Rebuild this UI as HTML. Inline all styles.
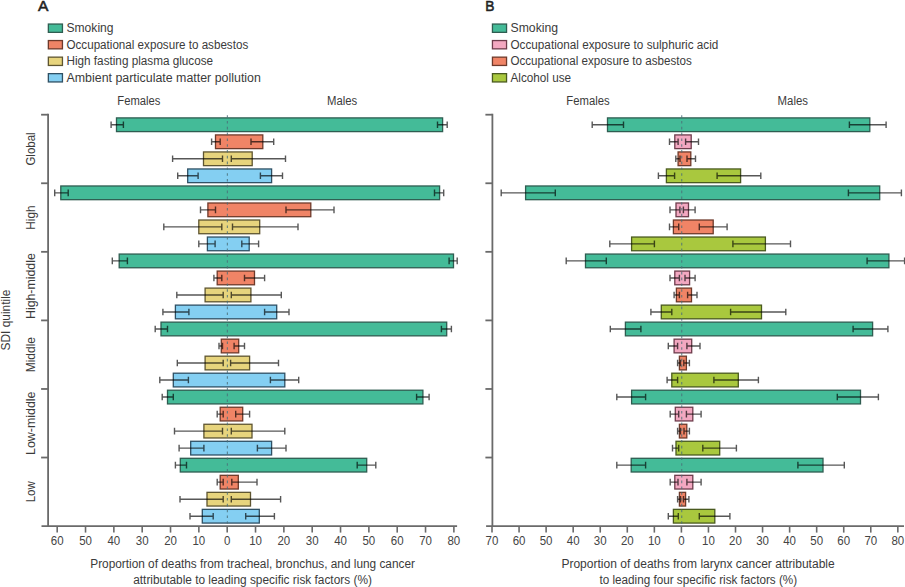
<!DOCTYPE html>
<html><head><meta charset="utf-8"><title>Figure</title>
<style>html,body{margin:0;padding:0;background:#fff;}svg{display:block;}</style>
</head><body>
<svg width="905" height="587" viewBox="0 0 905 587" font-family='"Liberation Sans", sans-serif'>
<rect width="905" height="587" fill="#fff"/>
<rect x="116.5" y="117.9" width="326.1" height="13.7" fill="#44bb98" stroke="#2f5d51" stroke-width="1.3"/>
<path d="M111.1 124.75H123.4M111.1 121.45V128.05M123.4 121.45V128.05" stroke="#000" stroke-opacity="0.66" stroke-width="1.4" fill="none"/>
<path d="M437.5 124.75H447.2M437.5 121.45V128.05M447.2 121.45V128.05" stroke="#000" stroke-opacity="0.66" stroke-width="1.4" fill="none"/>
<rect x="215.5" y="134.92" width="47.3" height="13.7" fill="#f08466" stroke="#6e3a2b" stroke-width="1.3"/>
<path d="M211.6 141.77H220.2M211.6 138.47V145.07M220.2 138.47V145.07" stroke="#000" stroke-opacity="0.66" stroke-width="1.4" fill="none"/>
<path d="M251 141.77H273.7M251 138.47V145.07M273.7 138.47V145.07" stroke="#000" stroke-opacity="0.66" stroke-width="1.4" fill="none"/>
<rect x="203.5" y="151.94" width="48.7" height="13.7" fill="#e7d47d" stroke="#5e5531" stroke-width="1.3"/>
<path d="M172.6 158.79H222.5M172.6 155.49V162.09M222.5 155.49V162.09" stroke="#000" stroke-opacity="0.66" stroke-width="1.4" fill="none"/>
<path d="M231.3 158.79H285.5M231.3 155.49V162.09M285.5 155.49V162.09" stroke="#000" stroke-opacity="0.66" stroke-width="1.4" fill="none"/>
<rect x="187.7" y="168.96" width="83.9" height="13.7" fill="#84cff2" stroke="#2f5064" stroke-width="1.3"/>
<path d="M177.7 175.81H198.1M177.7 172.51V179.11M198.1 172.51V179.11" stroke="#000" stroke-opacity="0.66" stroke-width="1.4" fill="none"/>
<path d="M260.4 175.81H282.5M260.4 172.51V179.11M282.5 172.51V179.11" stroke="#000" stroke-opacity="0.66" stroke-width="1.4" fill="none"/>
<rect x="60.8" y="185.98" width="378.8" height="13.7" fill="#44bb98" stroke="#2f5d51" stroke-width="1.3"/>
<path d="M54.7 192.83H68.2M54.7 189.53V196.13M68.2 189.53V196.13" stroke="#000" stroke-opacity="0.66" stroke-width="1.4" fill="none"/>
<path d="M434.5 192.83H443.7M434.5 189.53V196.13M443.7 189.53V196.13" stroke="#000" stroke-opacity="0.66" stroke-width="1.4" fill="none"/>
<rect x="207.9" y="203" width="102.9" height="13.7" fill="#f08466" stroke="#6e3a2b" stroke-width="1.3"/>
<path d="M200.5 209.85H215.5M200.5 206.55V213.15M215.5 206.55V213.15" stroke="#000" stroke-opacity="0.66" stroke-width="1.4" fill="none"/>
<path d="M286 209.85H334M286 206.55V213.15M334 206.55V213.15" stroke="#000" stroke-opacity="0.66" stroke-width="1.4" fill="none"/>
<rect x="198.8" y="220.02" width="60.9" height="13.7" fill="#e7d47d" stroke="#5e5531" stroke-width="1.3"/>
<path d="M163.8 226.87H221.8M163.8 223.57V230.17M221.8 223.57V230.17" stroke="#000" stroke-opacity="0.66" stroke-width="1.4" fill="none"/>
<path d="M232.5 226.87H298M232.5 223.57V230.17M298 223.57V230.17" stroke="#000" stroke-opacity="0.66" stroke-width="1.4" fill="none"/>
<rect x="207.4" y="237.04" width="41.8" height="13.7" fill="#84cff2" stroke="#2f5064" stroke-width="1.3"/>
<path d="M198.8 243.89H215.1M198.8 240.59V247.19M215.1 240.59V247.19" stroke="#000" stroke-opacity="0.66" stroke-width="1.4" fill="none"/>
<path d="M241.8 243.89H258.6M241.8 240.59V247.19M258.6 240.59V247.19" stroke="#000" stroke-opacity="0.66" stroke-width="1.4" fill="none"/>
<rect x="119.2" y="254.06" width="334.3" height="13.7" fill="#44bb98" stroke="#2f5d51" stroke-width="1.3"/>
<path d="M112.3 260.91H127.4M112.3 257.61V264.21M127.4 257.61V264.21" stroke="#000" stroke-opacity="0.66" stroke-width="1.4" fill="none"/>
<path d="M449.1 260.91H457.2M449.1 257.61V264.21M457.2 257.61V264.21" stroke="#000" stroke-opacity="0.66" stroke-width="1.4" fill="none"/>
<rect x="217.2" y="271.08" width="37.3" height="13.7" fill="#f08466" stroke="#6e3a2b" stroke-width="1.3"/>
<path d="M213.9 277.93H221.8M213.9 274.63V281.23M221.8 274.63V281.23" stroke="#000" stroke-opacity="0.66" stroke-width="1.4" fill="none"/>
<path d="M244.5 277.93H264.6M244.5 274.63V281.23M264.6 274.63V281.23" stroke="#000" stroke-opacity="0.66" stroke-width="1.4" fill="none"/>
<rect x="205.1" y="288.1" width="45.8" height="13.7" fill="#e7d47d" stroke="#5e5531" stroke-width="1.3"/>
<path d="M176.8 294.95H223.2M176.8 291.65V298.25M223.2 291.65V298.25" stroke="#000" stroke-opacity="0.66" stroke-width="1.4" fill="none"/>
<path d="M231.3 294.95H281.3M231.3 291.65V298.25M281.3 291.65V298.25" stroke="#000" stroke-opacity="0.66" stroke-width="1.4" fill="none"/>
<rect x="175.4" y="305.12" width="101.3" height="13.7" fill="#84cff2" stroke="#2f5064" stroke-width="1.3"/>
<path d="M162.9 311.97H188.9M162.9 308.67V315.27M188.9 308.67V315.27" stroke="#000" stroke-opacity="0.66" stroke-width="1.4" fill="none"/>
<path d="M264.6 311.97H289M264.6 308.67V315.27M289 308.67V315.27" stroke="#000" stroke-opacity="0.66" stroke-width="1.4" fill="none"/>
<rect x="161" y="322.14" width="285.7" height="13.7" fill="#44bb98" stroke="#2f5d51" stroke-width="1.3"/>
<path d="M155.2 328.99H167.5M155.2 325.69V332.29M167.5 325.69V332.29" stroke="#000" stroke-opacity="0.66" stroke-width="1.4" fill="none"/>
<path d="M441.4 328.99H451.4M441.4 325.69V332.29M451.4 325.69V332.29" stroke="#000" stroke-opacity="0.66" stroke-width="1.4" fill="none"/>
<rect x="221.3" y="339.16" width="17.4" height="13.7" fill="#f08466" stroke="#6e3a2b" stroke-width="1.3"/>
<path d="M219 346.01H222.5M219 342.71V349.31M222.5 342.71V349.31" stroke="#000" stroke-opacity="0.66" stroke-width="1.4" fill="none"/>
<path d="M234.1 346.01H244.5M234.1 342.71V349.31M244.5 342.71V349.31" stroke="#000" stroke-opacity="0.66" stroke-width="1.4" fill="none"/>
<rect x="205.1" y="356.18" width="44.5" height="13.7" fill="#e7d47d" stroke="#5e5531" stroke-width="1.3"/>
<path d="M177.3 363.03H223.2M177.3 359.73V366.33M223.2 359.73V366.33" stroke="#000" stroke-opacity="0.66" stroke-width="1.4" fill="none"/>
<path d="M230.6 363.03H278.5M230.6 359.73V366.33M278.5 359.73V366.33" stroke="#000" stroke-opacity="0.66" stroke-width="1.4" fill="none"/>
<rect x="173.3" y="373.2" width="111.5" height="13.7" fill="#84cff2" stroke="#2f5064" stroke-width="1.3"/>
<path d="M159.8 380.05H188.4M159.8 376.75V383.35M188.4 376.75V383.35" stroke="#000" stroke-opacity="0.66" stroke-width="1.4" fill="none"/>
<path d="M270.4 380.05H298.7M270.4 376.75V383.35M298.7 376.75V383.35" stroke="#000" stroke-opacity="0.66" stroke-width="1.4" fill="none"/>
<rect x="167.5" y="390.22" width="255.4" height="13.7" fill="#44bb98" stroke="#2f5d51" stroke-width="1.3"/>
<path d="M162.2 397.07H173.3M162.2 393.77V400.37M173.3 393.77V400.37" stroke="#000" stroke-opacity="0.66" stroke-width="1.4" fill="none"/>
<path d="M416.6 397.07H429.1M416.6 393.77V400.37M429.1 393.77V400.37" stroke="#000" stroke-opacity="0.66" stroke-width="1.4" fill="none"/>
<rect x="220.2" y="407.24" width="22.5" height="13.7" fill="#f08466" stroke="#6e3a2b" stroke-width="1.3"/>
<path d="M217.2 414.09H223.2M217.2 410.79V417.39M223.2 410.79V417.39" stroke="#000" stroke-opacity="0.66" stroke-width="1.4" fill="none"/>
<path d="M235.7 414.09H249.6M235.7 410.79V417.39M249.6 410.79V417.39" stroke="#000" stroke-opacity="0.66" stroke-width="1.4" fill="none"/>
<rect x="203.9" y="424.26" width="48.1" height="13.7" fill="#e7d47d" stroke="#5e5531" stroke-width="1.3"/>
<path d="M174.5 431.11H222.5M174.5 427.81V434.41M222.5 427.81V434.41" stroke="#000" stroke-opacity="0.66" stroke-width="1.4" fill="none"/>
<path d="M231.3 431.11H284.8M231.3 427.81V434.41M284.8 427.81V434.41" stroke="#000" stroke-opacity="0.66" stroke-width="1.4" fill="none"/>
<rect x="190.7" y="441.28" width="80.9" height="13.7" fill="#84cff2" stroke="#2f5064" stroke-width="1.3"/>
<path d="M179.1 448.13H203.9M179.1 444.83V451.43M203.9 444.83V451.43" stroke="#000" stroke-opacity="0.66" stroke-width="1.4" fill="none"/>
<path d="M257.4 448.13H286M257.4 444.83V451.43M286 444.83V451.43" stroke="#000" stroke-opacity="0.66" stroke-width="1.4" fill="none"/>
<rect x="180.3" y="458.3" width="186.4" height="13.7" fill="#44bb98" stroke="#2f5d51" stroke-width="1.3"/>
<path d="M175.4 465.15H186.5M175.4 461.85V468.45M186.5 461.85V468.45" stroke="#000" stroke-opacity="0.66" stroke-width="1.4" fill="none"/>
<path d="M357.2 465.15H375.8M357.2 461.85V468.45M375.8 461.85V468.45" stroke="#000" stroke-opacity="0.66" stroke-width="1.4" fill="none"/>
<rect x="220.2" y="475.32" width="18.1" height="13.7" fill="#f08466" stroke="#6e3a2b" stroke-width="1.3"/>
<path d="M217.2 482.17H223.2M217.2 478.87V485.47M223.2 478.87V485.47" stroke="#000" stroke-opacity="0.66" stroke-width="1.4" fill="none"/>
<path d="M231.8 482.17H257M231.8 478.87V485.47M257 478.87V485.47" stroke="#000" stroke-opacity="0.66" stroke-width="1.4" fill="none"/>
<rect x="207" y="492.34" width="43.5" height="13.7" fill="#e7d47d" stroke="#5e5531" stroke-width="1.3"/>
<path d="M180 499.19H223.2M180 495.89V502.49M223.2 495.89V502.49" stroke="#000" stroke-opacity="0.66" stroke-width="1.4" fill="none"/>
<path d="M231.3 499.19H280.6M231.3 495.89V502.49M280.6 495.89V502.49" stroke="#000" stroke-opacity="0.66" stroke-width="1.4" fill="none"/>
<rect x="202.3" y="509.36" width="57" height="13.7" fill="#84cff2" stroke="#2f5064" stroke-width="1.3"/>
<path d="M190 516.21H213.2M190 512.91V519.51M213.2 512.91V519.51" stroke="#000" stroke-opacity="0.66" stroke-width="1.4" fill="none"/>
<path d="M245.7 516.21H274.4M245.7 512.91V519.51M274.4 512.91V519.51" stroke="#000" stroke-opacity="0.66" stroke-width="1.4" fill="none"/>
<line x1="227.35" y1="115.2" x2="227.35" y2="525.1" stroke="#4a6f78" stroke-opacity="0.85" stroke-width="1.05" stroke-dasharray="2.6 3.2"/>
<path d="M48.1 113.8V526.1" stroke="#6a6a6a" stroke-width="1.8" fill="none"/>
<path d="M41.1 114.7H48.1" stroke="#6a6a6a" stroke-width="1.8" fill="none"/>
<path d="M41.1 183.27H48.1" stroke="#6a6a6a" stroke-width="1.8" fill="none"/>
<path d="M41.1 251.83H48.1" stroke="#6a6a6a" stroke-width="1.8" fill="none"/>
<path d="M41.1 320.4H48.1" stroke="#6a6a6a" stroke-width="1.8" fill="none"/>
<path d="M41.1 388.97H48.1" stroke="#6a6a6a" stroke-width="1.8" fill="none"/>
<path d="M41.1 457.53H48.1" stroke="#6a6a6a" stroke-width="1.8" fill="none"/>
<path d="M41.5 526.1H457.1" stroke="#6a6a6a" stroke-width="1.9" fill="none"/>
<path d="M57.19 526.1V532.6" stroke="#6a6a6a" stroke-width="1.6" fill="none"/>
<text x="57.19" y="545" font-size="13" text-anchor="middle" textLength="12.8" lengthAdjust="spacingAndGlyphs" fill="#444">60</text>
<path d="M85.53 526.1V532.6" stroke="#6a6a6a" stroke-width="1.6" fill="none"/>
<text x="85.53" y="545" font-size="13" text-anchor="middle" textLength="12.8" lengthAdjust="spacingAndGlyphs" fill="#444">50</text>
<path d="M113.86 526.1V532.6" stroke="#6a6a6a" stroke-width="1.6" fill="none"/>
<text x="113.86" y="545" font-size="13" text-anchor="middle" textLength="12.8" lengthAdjust="spacingAndGlyphs" fill="#444">40</text>
<path d="M142.19 526.1V532.6" stroke="#6a6a6a" stroke-width="1.6" fill="none"/>
<text x="142.19" y="545" font-size="13" text-anchor="middle" textLength="12.8" lengthAdjust="spacingAndGlyphs" fill="#444">30</text>
<path d="M170.53 526.1V532.6" stroke="#6a6a6a" stroke-width="1.6" fill="none"/>
<text x="170.53" y="545" font-size="13" text-anchor="middle" textLength="12.8" lengthAdjust="spacingAndGlyphs" fill="#444">20</text>
<path d="M198.86 526.1V532.6" stroke="#6a6a6a" stroke-width="1.6" fill="none"/>
<text x="198.86" y="545" font-size="13" text-anchor="middle" textLength="12.8" lengthAdjust="spacingAndGlyphs" fill="#444">10</text>
<path d="M227.2 526.1V532.6" stroke="#6a6a6a" stroke-width="1.6" fill="none"/>
<text x="227.2" y="545" font-size="13" text-anchor="middle" textLength="6.4" lengthAdjust="spacingAndGlyphs" fill="#444">0</text>
<path d="M255.53 526.1V532.6" stroke="#6a6a6a" stroke-width="1.6" fill="none"/>
<text x="255.53" y="545" font-size="13" text-anchor="middle" textLength="12.8" lengthAdjust="spacingAndGlyphs" fill="#444">10</text>
<path d="M283.87 526.1V532.6" stroke="#6a6a6a" stroke-width="1.6" fill="none"/>
<text x="283.87" y="545" font-size="13" text-anchor="middle" textLength="12.8" lengthAdjust="spacingAndGlyphs" fill="#444">20</text>
<path d="M312.2 526.1V532.6" stroke="#6a6a6a" stroke-width="1.6" fill="none"/>
<text x="312.2" y="545" font-size="13" text-anchor="middle" textLength="12.8" lengthAdjust="spacingAndGlyphs" fill="#444">30</text>
<path d="M340.54 526.1V532.6" stroke="#6a6a6a" stroke-width="1.6" fill="none"/>
<text x="340.54" y="545" font-size="13" text-anchor="middle" textLength="12.8" lengthAdjust="spacingAndGlyphs" fill="#444">40</text>
<path d="M368.88 526.1V532.6" stroke="#6a6a6a" stroke-width="1.6" fill="none"/>
<text x="368.88" y="545" font-size="13" text-anchor="middle" textLength="12.8" lengthAdjust="spacingAndGlyphs" fill="#444">50</text>
<path d="M397.21 526.1V532.6" stroke="#6a6a6a" stroke-width="1.6" fill="none"/>
<text x="397.21" y="545" font-size="13" text-anchor="middle" textLength="12.8" lengthAdjust="spacingAndGlyphs" fill="#444">60</text>
<path d="M425.54 526.1V532.6" stroke="#6a6a6a" stroke-width="1.6" fill="none"/>
<text x="425.54" y="545" font-size="13" text-anchor="middle" textLength="12.8" lengthAdjust="spacingAndGlyphs" fill="#444">70</text>
<path d="M453.88 526.1V532.6" stroke="#6a6a6a" stroke-width="1.6" fill="none"/>
<text x="453.88" y="545" font-size="13" text-anchor="middle" textLength="12.8" lengthAdjust="spacingAndGlyphs" fill="#444">80</text>
<rect x="607.5" y="117.9" width="262.3" height="13.7" fill="#44bb98" stroke="#2f5d51" stroke-width="1.3"/>
<path d="M592.2 124.75H623.5M592.2 121.45V128.05M623.5 121.45V128.05" stroke="#000" stroke-opacity="0.66" stroke-width="1.4" fill="none"/>
<path d="M849.4 124.75H886.1M849.4 121.45V128.05M886.1 121.45V128.05" stroke="#000" stroke-opacity="0.66" stroke-width="1.4" fill="none"/>
<rect x="674.8" y="134.92" width="16.4" height="13.7" fill="#f3a8c1" stroke="#6e3d4c" stroke-width="1.3"/>
<path d="M669.5 141.77H678.1M669.5 138.47V145.07M678.1 138.47V145.07" stroke="#000" stroke-opacity="0.66" stroke-width="1.4" fill="none"/>
<path d="M685.6 141.77H698.5M685.6 138.47V145.07M698.5 138.47V145.07" stroke="#000" stroke-opacity="0.66" stroke-width="1.4" fill="none"/>
<rect x="678.1" y="151.94" width="12.7" height="13.7" fill="#f08466" stroke="#6e3a2b" stroke-width="1.3"/>
<path d="M675.8 158.79H680M675.8 155.49V162.09M680 155.49V162.09" stroke="#000" stroke-opacity="0.66" stroke-width="1.4" fill="none"/>
<path d="M687 158.79H695.5M687 155.49V162.09M695.5 155.49V162.09" stroke="#000" stroke-opacity="0.66" stroke-width="1.4" fill="none"/>
<rect x="666.4" y="168.96" width="74.2" height="13.7" fill="#a9c83e" stroke="#4a5a1f" stroke-width="1.3"/>
<path d="M658.4 175.81H674.6M658.4 172.51V179.11M674.6 172.51V179.11" stroke="#000" stroke-opacity="0.66" stroke-width="1.4" fill="none"/>
<path d="M717.1 175.81H760.8M717.1 172.51V179.11M760.8 172.51V179.11" stroke="#000" stroke-opacity="0.66" stroke-width="1.4" fill="none"/>
<rect x="525.6" y="185.98" width="354.1" height="13.7" fill="#44bb98" stroke="#2f5d51" stroke-width="1.3"/>
<path d="M501.2 192.83H555.3M501.2 189.53V196.13M555.3 189.53V196.13" stroke="#000" stroke-opacity="0.66" stroke-width="1.4" fill="none"/>
<path d="M848.4 192.83H901.4M848.4 189.53V196.13M901.4 189.53V196.13" stroke="#000" stroke-opacity="0.66" stroke-width="1.4" fill="none"/>
<rect x="676" y="203" width="12.5" height="13.7" fill="#f3a8c1" stroke="#6e3d4c" stroke-width="1.3"/>
<path d="M670 209.85H679.9M670 206.55V213.15M679.9 206.55V213.15" stroke="#000" stroke-opacity="0.66" stroke-width="1.4" fill="none"/>
<path d="M683.4 209.85H695.1M683.4 206.55V213.15M695.1 206.55V213.15" stroke="#000" stroke-opacity="0.66" stroke-width="1.4" fill="none"/>
<rect x="673.4" y="220.02" width="39.8" height="13.7" fill="#f08466" stroke="#6e3a2b" stroke-width="1.3"/>
<path d="M669.5 226.87H678.7M669.5 223.57V230.17M678.7 223.57V230.17" stroke="#000" stroke-opacity="0.66" stroke-width="1.4" fill="none"/>
<path d="M699.3 226.87H727.1M699.3 223.57V230.17M727.1 223.57V230.17" stroke="#000" stroke-opacity="0.66" stroke-width="1.4" fill="none"/>
<rect x="631.6" y="237.04" width="133.8" height="13.7" fill="#a9c83e" stroke="#4a5a1f" stroke-width="1.3"/>
<path d="M609.8 243.89H654.4M609.8 240.59V247.19M654.4 240.59V247.19" stroke="#000" stroke-opacity="0.66" stroke-width="1.4" fill="none"/>
<path d="M732.9 243.89H790.5M732.9 240.59V247.19M790.5 240.59V247.19" stroke="#000" stroke-opacity="0.66" stroke-width="1.4" fill="none"/>
<rect x="585.5" y="254.06" width="303.4" height="13.7" fill="#44bb98" stroke="#2f5d51" stroke-width="1.3"/>
<path d="M566.2 260.91H606.3M566.2 257.61V264.21M606.3 257.61V264.21" stroke="#000" stroke-opacity="0.66" stroke-width="1.4" fill="none"/>
<path d="M867.1 260.91H904.6M867.1 257.61V264.21M904.6 257.61V264.21" stroke="#000" stroke-opacity="0.66" stroke-width="1.4" fill="none"/>
<rect x="674.8" y="271.08" width="14.8" height="13.7" fill="#f3a8c1" stroke="#6e3d4c" stroke-width="1.3"/>
<path d="M670 277.93H679.4M670 274.63V281.23M679.4 274.63V281.23" stroke="#000" stroke-opacity="0.66" stroke-width="1.4" fill="none"/>
<path d="M685 277.93H695.1M685 274.63V281.23M695.1 274.63V281.23" stroke="#000" stroke-opacity="0.66" stroke-width="1.4" fill="none"/>
<rect x="676.4" y="288.1" width="15.1" height="13.7" fill="#f08466" stroke="#6e3a2b" stroke-width="1.3"/>
<path d="M674.1 294.95H679.4M674.1 291.65V298.25M679.4 291.65V298.25" stroke="#000" stroke-opacity="0.66" stroke-width="1.4" fill="none"/>
<path d="M687.6 294.95H697M687.6 291.65V298.25M697 291.65V298.25" stroke="#000" stroke-opacity="0.66" stroke-width="1.4" fill="none"/>
<rect x="661.3" y="305.12" width="100.2" height="13.7" fill="#a9c83e" stroke="#4a5a1f" stroke-width="1.3"/>
<path d="M650.9 311.97H671.8M650.9 308.67V315.27M671.8 308.67V315.27" stroke="#000" stroke-opacity="0.66" stroke-width="1.4" fill="none"/>
<path d="M730.6 311.97H785.8M730.6 308.67V315.27M785.8 308.67V315.27" stroke="#000" stroke-opacity="0.66" stroke-width="1.4" fill="none"/>
<rect x="625.4" y="322.14" width="247.2" height="13.7" fill="#44bb98" stroke="#2f5d51" stroke-width="1.3"/>
<path d="M610.3 328.99H640.9M610.3 325.69V332.29M640.9 325.69V332.29" stroke="#000" stroke-opacity="0.66" stroke-width="1.4" fill="none"/>
<path d="M853.1 328.99H887.9M853.1 325.69V332.29M887.9 325.69V332.29" stroke="#000" stroke-opacity="0.66" stroke-width="1.4" fill="none"/>
<rect x="674.1" y="339.16" width="17.6" height="13.7" fill="#f3a8c1" stroke="#6e3d4c" stroke-width="1.3"/>
<path d="M668.3 346.01H677.6M668.3 342.71V349.31M677.6 342.71V349.31" stroke="#000" stroke-opacity="0.66" stroke-width="1.4" fill="none"/>
<path d="M686.9 346.01H700M686.9 342.71V349.31M700 342.71V349.31" stroke="#000" stroke-opacity="0.66" stroke-width="1.4" fill="none"/>
<rect x="679.4" y="356.18" width="7" height="13.7" fill="#f08466" stroke="#6e3a2b" stroke-width="1.3"/>
<path d="M677.6 363.03H680.5M677.6 359.73V366.33M680.5 359.73V366.33" stroke="#000" stroke-opacity="0.66" stroke-width="1.4" fill="none"/>
<path d="M683.8 363.03H689.4M683.8 359.73V366.33M689.4 359.73V366.33" stroke="#000" stroke-opacity="0.66" stroke-width="1.4" fill="none"/>
<rect x="671.8" y="373.2" width="66.5" height="13.7" fill="#a9c83e" stroke="#4a5a1f" stroke-width="1.3"/>
<path d="M667.1 380.05H677.6M667.1 376.75V383.35M677.6 376.75V383.35" stroke="#000" stroke-opacity="0.66" stroke-width="1.4" fill="none"/>
<path d="M713.9 380.05H758.4M713.9 376.75V383.35M758.4 376.75V383.35" stroke="#000" stroke-opacity="0.66" stroke-width="1.4" fill="none"/>
<rect x="631.6" y="390.22" width="228.9" height="13.7" fill="#44bb98" stroke="#2f5d51" stroke-width="1.3"/>
<path d="M616.8 397.07H645.6M616.8 393.77V400.37M645.6 393.77V400.37" stroke="#000" stroke-opacity="0.66" stroke-width="1.4" fill="none"/>
<path d="M837.3 397.07H878.4M837.3 393.77V400.37M878.4 393.77V400.37" stroke="#000" stroke-opacity="0.66" stroke-width="1.4" fill="none"/>
<rect x="675.3" y="407.24" width="17.5" height="13.7" fill="#f3a8c1" stroke="#6e3d4c" stroke-width="1.3"/>
<path d="M670.2 414.09H678.7M670.2 410.79V417.39M678.7 410.79V417.39" stroke="#000" stroke-opacity="0.66" stroke-width="1.4" fill="none"/>
<path d="M686.4 414.09H701.1M686.4 410.79V417.39M701.1 410.79V417.39" stroke="#000" stroke-opacity="0.66" stroke-width="1.4" fill="none"/>
<rect x="679.4" y="424.26" width="7.4" height="13.7" fill="#f08466" stroke="#6e3a2b" stroke-width="1.3"/>
<path d="M677.6 431.11H680.5M677.6 427.81V434.41M680.5 427.81V434.41" stroke="#000" stroke-opacity="0.66" stroke-width="1.4" fill="none"/>
<path d="M684 431.11H689.4M684 427.81V434.41M689.4 427.81V434.41" stroke="#000" stroke-opacity="0.66" stroke-width="1.4" fill="none"/>
<rect x="676" y="441.28" width="43.7" height="13.7" fill="#a9c83e" stroke="#4a5a1f" stroke-width="1.3"/>
<path d="M672.5 448.13H678.7M672.5 444.83V451.43M678.7 444.83V451.43" stroke="#000" stroke-opacity="0.66" stroke-width="1.4" fill="none"/>
<path d="M702.8 448.13H736.4M702.8 444.83V451.43M736.4 444.83V451.43" stroke="#000" stroke-opacity="0.66" stroke-width="1.4" fill="none"/>
<rect x="631.2" y="458.3" width="191.8" height="13.7" fill="#44bb98" stroke="#2f5d51" stroke-width="1.3"/>
<path d="M616.8 465.15H645.6M616.8 461.85V468.45M645.6 461.85V468.45" stroke="#000" stroke-opacity="0.66" stroke-width="1.4" fill="none"/>
<path d="M797.9 465.15H844.3M797.9 461.85V468.45M844.3 461.85V468.45" stroke="#000" stroke-opacity="0.66" stroke-width="1.4" fill="none"/>
<rect x="674.8" y="475.32" width="18" height="13.7" fill="#f3a8c1" stroke="#6e3d4c" stroke-width="1.3"/>
<path d="M670.2 482.17H678M670.2 478.87V485.47M678 478.87V485.47" stroke="#000" stroke-opacity="0.66" stroke-width="1.4" fill="none"/>
<path d="M686.9 482.17H701.1M686.9 478.87V485.47M701.1 478.87V485.47" stroke="#000" stroke-opacity="0.66" stroke-width="1.4" fill="none"/>
<rect x="679.4" y="492.34" width="6.2" height="13.7" fill="#f08466" stroke="#6e3a2b" stroke-width="1.3"/>
<path d="M677.6 499.19H680.5M677.6 495.89V502.49M680.5 495.89V502.49" stroke="#000" stroke-opacity="0.66" stroke-width="1.4" fill="none"/>
<path d="M683.5 499.19H688.9M683.5 495.89V502.49M688.9 495.89V502.49" stroke="#000" stroke-opacity="0.66" stroke-width="1.4" fill="none"/>
<rect x="673.4" y="509.36" width="41.4" height="13.7" fill="#a9c83e" stroke="#4a5a1f" stroke-width="1.3"/>
<path d="M668.3 516.21H678.3M668.3 512.91V519.51M678.3 512.91V519.51" stroke="#000" stroke-opacity="0.66" stroke-width="1.4" fill="none"/>
<path d="M699.3 516.21H729.9M699.3 512.91V519.51M729.9 512.91V519.51" stroke="#000" stroke-opacity="0.66" stroke-width="1.4" fill="none"/>
<line x1="681.75" y1="115.2" x2="681.75" y2="525.1" stroke="#4a6f78" stroke-opacity="0.85" stroke-width="1.05" stroke-dasharray="2.6 3.2"/>
<path d="M492.4 113.8V526.1" stroke="#6a6a6a" stroke-width="1.8" fill="none"/>
<path d="M485.4 114.7H492.4" stroke="#6a6a6a" stroke-width="1.8" fill="none"/>
<path d="M485.4 183.27H492.4" stroke="#6a6a6a" stroke-width="1.8" fill="none"/>
<path d="M485.4 251.83H492.4" stroke="#6a6a6a" stroke-width="1.8" fill="none"/>
<path d="M485.4 320.4H492.4" stroke="#6a6a6a" stroke-width="1.8" fill="none"/>
<path d="M485.4 388.97H492.4" stroke="#6a6a6a" stroke-width="1.8" fill="none"/>
<path d="M485.4 457.53H492.4" stroke="#6a6a6a" stroke-width="1.8" fill="none"/>
<path d="M486.1 526.1H904" stroke="#6a6a6a" stroke-width="1.9" fill="none"/>
<path d="M492.01 526.1V532.6" stroke="#6a6a6a" stroke-width="1.6" fill="none"/>
<text x="492.01" y="545" font-size="13" text-anchor="middle" textLength="12.8" lengthAdjust="spacingAndGlyphs" fill="#444">70</text>
<path d="M519.07 526.1V532.6" stroke="#6a6a6a" stroke-width="1.6" fill="none"/>
<text x="519.07" y="545" font-size="13" text-anchor="middle" textLength="12.8" lengthAdjust="spacingAndGlyphs" fill="#444">60</text>
<path d="M546.12 526.1V532.6" stroke="#6a6a6a" stroke-width="1.6" fill="none"/>
<text x="546.12" y="545" font-size="13" text-anchor="middle" textLength="12.8" lengthAdjust="spacingAndGlyphs" fill="#444">50</text>
<path d="M573.18 526.1V532.6" stroke="#6a6a6a" stroke-width="1.6" fill="none"/>
<text x="573.18" y="545" font-size="13" text-anchor="middle" textLength="12.8" lengthAdjust="spacingAndGlyphs" fill="#444">40</text>
<path d="M600.24 526.1V532.6" stroke="#6a6a6a" stroke-width="1.6" fill="none"/>
<text x="600.24" y="545" font-size="13" text-anchor="middle" textLength="12.8" lengthAdjust="spacingAndGlyphs" fill="#444">30</text>
<path d="M627.29 526.1V532.6" stroke="#6a6a6a" stroke-width="1.6" fill="none"/>
<text x="627.29" y="545" font-size="13" text-anchor="middle" textLength="12.8" lengthAdjust="spacingAndGlyphs" fill="#444">20</text>
<path d="M654.35 526.1V532.6" stroke="#6a6a6a" stroke-width="1.6" fill="none"/>
<text x="654.35" y="545" font-size="13" text-anchor="middle" textLength="12.8" lengthAdjust="spacingAndGlyphs" fill="#444">10</text>
<path d="M681.4 526.1V532.6" stroke="#6a6a6a" stroke-width="1.6" fill="none"/>
<text x="681.4" y="545" font-size="13" text-anchor="middle" textLength="6.4" lengthAdjust="spacingAndGlyphs" fill="#444">0</text>
<path d="M708.45 526.1V532.6" stroke="#6a6a6a" stroke-width="1.6" fill="none"/>
<text x="708.45" y="545" font-size="13" text-anchor="middle" textLength="12.8" lengthAdjust="spacingAndGlyphs" fill="#444">10</text>
<path d="M735.51 526.1V532.6" stroke="#6a6a6a" stroke-width="1.6" fill="none"/>
<text x="735.51" y="545" font-size="13" text-anchor="middle" textLength="12.8" lengthAdjust="spacingAndGlyphs" fill="#444">20</text>
<path d="M762.56 526.1V532.6" stroke="#6a6a6a" stroke-width="1.6" fill="none"/>
<text x="762.56" y="545" font-size="13" text-anchor="middle" textLength="12.8" lengthAdjust="spacingAndGlyphs" fill="#444">30</text>
<path d="M789.62 526.1V532.6" stroke="#6a6a6a" stroke-width="1.6" fill="none"/>
<text x="789.62" y="545" font-size="13" text-anchor="middle" textLength="12.8" lengthAdjust="spacingAndGlyphs" fill="#444">40</text>
<path d="M816.67 526.1V532.6" stroke="#6a6a6a" stroke-width="1.6" fill="none"/>
<text x="816.67" y="545" font-size="13" text-anchor="middle" textLength="12.8" lengthAdjust="spacingAndGlyphs" fill="#444">50</text>
<path d="M843.73 526.1V532.6" stroke="#6a6a6a" stroke-width="1.6" fill="none"/>
<text x="843.73" y="545" font-size="13" text-anchor="middle" textLength="12.8" lengthAdjust="spacingAndGlyphs" fill="#444">60</text>
<path d="M870.78 526.1V532.6" stroke="#6a6a6a" stroke-width="1.6" fill="none"/>
<text x="870.78" y="545" font-size="13" text-anchor="middle" textLength="12.8" lengthAdjust="spacingAndGlyphs" fill="#444">70</text>
<path d="M897.84 526.1V532.6" stroke="#6a6a6a" stroke-width="1.6" fill="none"/>
<text x="897.84" y="545" font-size="13" text-anchor="middle" textLength="12.8" lengthAdjust="spacingAndGlyphs" fill="#444">80</text>
<text x="37.9" y="11.4" font-size="15.5" text-anchor="start" textLength="10.4" lengthAdjust="spacingAndGlyphs" fill="#222" stroke="#222" stroke-width="0.55">A</text>
<text x="485.3" y="11.4" font-size="15.5" text-anchor="start" textLength="9.2" lengthAdjust="spacingAndGlyphs" fill="#222" stroke="#222" stroke-width="0.55">B</text>
<rect x="48.35" y="24.05" width="14.1" height="8.3" fill="#44bb98" stroke="#2f5d51" stroke-width="1.3"/>
<text x="66.5" y="32.2" font-size="12" text-anchor="start" textLength="47" lengthAdjust="spacingAndGlyphs" fill="#3b3b3b">Smoking</text>
<rect x="48.35" y="40.55" width="14.1" height="8.3" fill="#f08466" stroke="#6e3a2b" stroke-width="1.3"/>
<text x="66.5" y="48.7" font-size="12" text-anchor="start" textLength="181.7" lengthAdjust="spacingAndGlyphs" fill="#3b3b3b">Occupational exposure to asbestos</text>
<rect x="48.35" y="57.15" width="14.1" height="8.3" fill="#e7d47d" stroke="#5e5531" stroke-width="1.3"/>
<text x="66.5" y="65.3" font-size="12" text-anchor="start" textLength="146.6" lengthAdjust="spacingAndGlyphs" fill="#3b3b3b">High fasting plasma glucose</text>
<rect x="48.35" y="73.65" width="14.1" height="8.3" fill="#84cff2" stroke="#2f5064" stroke-width="1.3"/>
<text x="66.5" y="81.8" font-size="12" text-anchor="start" textLength="194.4" lengthAdjust="spacingAndGlyphs" fill="#3b3b3b">Ambient particulate matter pollution</text>
<rect x="492.45" y="24.05" width="14.1" height="8.3" fill="#44bb98" stroke="#2f5d51" stroke-width="1.3"/>
<text x="510.5" y="32.2" font-size="12" text-anchor="start" textLength="47.6" lengthAdjust="spacingAndGlyphs" fill="#3b3b3b">Smoking</text>
<rect x="492.45" y="40.55" width="14.1" height="8.3" fill="#f3a8c1" stroke="#6e3d4c" stroke-width="1.3"/>
<text x="510.5" y="48.7" font-size="12" text-anchor="start" textLength="207.8" lengthAdjust="spacingAndGlyphs" fill="#3b3b3b">Occupational exposure to sulphuric acid</text>
<rect x="492.45" y="57.15" width="14.1" height="8.3" fill="#f08466" stroke="#6e3a2b" stroke-width="1.3"/>
<text x="510.5" y="65.3" font-size="12" text-anchor="start" textLength="181.2" lengthAdjust="spacingAndGlyphs" fill="#3b3b3b">Occupational exposure to asbestos</text>
<rect x="492.45" y="73.65" width="14.1" height="8.3" fill="#a9c83e" stroke="#4a5a1f" stroke-width="1.3"/>
<text x="510.5" y="81.8" font-size="12" text-anchor="start" textLength="60.6" lengthAdjust="spacingAndGlyphs" fill="#3b3b3b">Alcohol use</text>
<text x="117.3" y="104.8" font-size="12" text-anchor="start" textLength="43.1" lengthAdjust="spacingAndGlyphs" fill="#3b3b3b">Females</text>
<text x="327" y="104.8" font-size="12" text-anchor="start" textLength="30.2" lengthAdjust="spacingAndGlyphs" fill="#3b3b3b">Males</text>
<text x="566.3" y="104.8" font-size="12" text-anchor="start" textLength="43.3" lengthAdjust="spacingAndGlyphs" fill="#3b3b3b">Females</text>
<text x="777.6" y="104.8" font-size="12" text-anchor="start" textLength="30.4" lengthAdjust="spacingAndGlyphs" fill="#3b3b3b">Males</text>
<text transform="translate(35.4 148.98) rotate(-90)" font-size="12" text-anchor="middle" fill="#3b3b3b" textLength="33.2" lengthAdjust="spacingAndGlyphs">Global</text>
<text transform="translate(35.4 217.55) rotate(-90)" font-size="12" text-anchor="middle" fill="#3b3b3b" textLength="24.3" lengthAdjust="spacingAndGlyphs">High</text>
<text transform="translate(35.4 286.12) rotate(-90)" font-size="12" text-anchor="middle" fill="#3b3b3b" textLength="65.8" lengthAdjust="spacingAndGlyphs">High-middle</text>
<text transform="translate(35.4 354.68) rotate(-90)" font-size="12" text-anchor="middle" fill="#3b3b3b" textLength="35.3" lengthAdjust="spacingAndGlyphs">Middle</text>
<text transform="translate(35.4 423.25) rotate(-90)" font-size="12" text-anchor="middle" fill="#3b3b3b" textLength="63.5" lengthAdjust="spacingAndGlyphs">Low-middle</text>
<text transform="translate(35.4 491.82) rotate(-90)" font-size="12" text-anchor="middle" fill="#3b3b3b" textLength="21" lengthAdjust="spacingAndGlyphs">Low</text>
<text transform="translate(10.0 320) rotate(-90)" font-size="12" text-anchor="middle" fill="#3b3b3b" textLength="61" lengthAdjust="spacingAndGlyphs">SDI quintile</text>
<text x="90.3" y="567.5" font-size="12" text-anchor="start" textLength="324.6" lengthAdjust="spacingAndGlyphs" fill="#3b3b3b">Proportion of deaths from tracheal, bronchus, and lung cancer</text>
<text x="133.2" y="584.1" font-size="12" text-anchor="start" textLength="238.7" lengthAdjust="spacingAndGlyphs" fill="#3b3b3b">attributable to leading specific risk factors (%)</text>
<text x="561.4" y="567.5" font-size="12" text-anchor="start" textLength="273.3" lengthAdjust="spacingAndGlyphs" fill="#3b3b3b">Proportion of deaths from larynx cancer attributable</text>
<text x="599.4" y="584.1" font-size="12" text-anchor="start" textLength="197.8" lengthAdjust="spacingAndGlyphs" fill="#3b3b3b">to leading four specific risk factors (%)</text>
</svg>
</body></html>
